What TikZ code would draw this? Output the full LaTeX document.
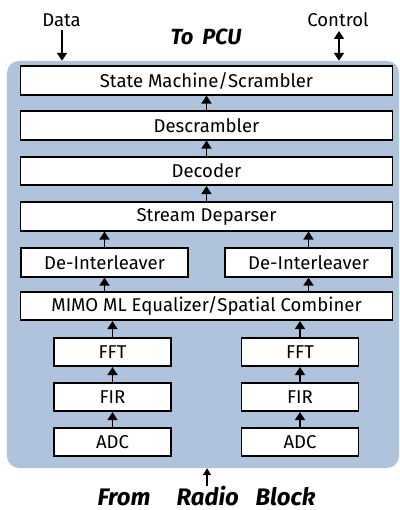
\documentclass[tikz,border=0pt]{standalone}
\usepackage{fontspec}
\setmainfont{Fira Sans}
\usetikzlibrary{arrows.meta}
\definecolor{bgblue}{RGB}{176,195,220}
\begin{document}
\begin{tikzpicture}[x=1bp,y=-1bp,
  box/.style={draw=black, line width=1.6bp, fill=white, minimum height=28.5bp, inner sep=0pt, font=\fontsize{18.6}{22}\selectfont},
  wide/.style={box, minimum width=372bp},
  dibox/.style={box, minimum width=167.5bp},
  smallbox/.style={box, minimum width=117bp},
  arr/.style={line width=1.6bp, -{Triangle[width=10bp,length=8bp]}},
  darr/.style={line width=1.6bp, {Triangle[width=10bp,length=8bp]}-{Triangle[width=10bp,length=8bp]}},
  lbl/.style={inner sep=0pt, anchor=base, font=\fontsize{18.6}{22}\selectfont},
  title/.style={inner sep=0pt, anchor=base, font=\bfseries\itshape\fontsize{22}{26}\selectfont},
  bigtitle/.style={inner sep=0pt, anchor=base, font=\bfseries\itshape\fontsize{24}{28}\selectfont}
]
\useasboundingbox (0,0) rectangle (399,510);
\node[fill=bgblue, rounded corners=12bp, minimum width=392bp, minimum height=407bp, inner sep=0pt] (bg) at (203,264.5) {};

\node[wide] (sm) at (206.5,80.5) {State Machine/Scrambler};
\node[wide] (ds) at (206.5,125.5) {Descrambler};
\node[wide] (dec) at (206.5,171) {Decoder};
\node[wide] (sd) at (206.5,216.5) {Stream Deparser};
\node[dibox] (dil) at (104.5,262.5) {De-Interleaver};
\node[dibox] (dir) at (308.5,262.5) {De-Interleaver};
\node[wide] (mimo) at (206.5,306) {MIMO ML Equalizer/Spatial Combiner};
\node[smallbox] (fftl) at (112.5,352) {FFT};
\node[smallbox] (fftr) at (300,352) {FFT};
\node[smallbox] (firl) at (112.5,397) {FIR};
\node[smallbox] (firr) at (300,397) {FIR};
\node[smallbox] (adcl) at (112.5,442) {ADC};
\node[smallbox] (adcr) at (300,442) {ADC};

\draw[arr] (ds.north) -- (sm.south);
\draw[arr] (dec.north) -- (ds.south);
\draw[arr] (sd.north) -- (dec.south);
\draw[arr] (dil.north) -- (dil.north |- sd.south);
\draw[arr] (dir.north) -- (dir.north |- sd.south);
\draw[arr] (mimo.north -| dil.north) -- (dil.south);
\draw[arr] (mimo.north -| dir.north) -- (dir.south);
\draw[arr] (fftl.north) -- (fftl.north |- mimo.south);
\draw[arr] (fftr.north) -- (fftr.north |- mimo.south);
\draw[arr] (firl.north) -- (fftl.south);
\draw[arr] (firr.north) -- (fftr.south);
\draw[arr] (adcl.north) -- (firl.south);
\draw[arr] (adcr.north) -- (firr.south);

\node[lbl] (data) at (61.5,27) {Data};
\node[lbl] (ctrl) at (338,27) {Control};
\node[title] (pcu) at (206,45) {To\hspace{0.4em}PCU};
\node[bigtitle] (frb) at (206.5,505) {From\hspace{1.1em}Radio\hspace{0.7em}Block};

\coordinate (dtop) at (62,30);
\coordinate (ctop) at (339,31);
\coordinate (rbot) at (207,486);
\draw[arr] (dtop) -- (dtop |- bg.north);
\draw[darr] (ctop) -- (ctop |- bg.north);
\draw[line width=1.3bp, -{Triangle[width=8bp,length=7bp]}] (rbot) -- (rbot |- bg.south);
\end{tikzpicture}
\end{document}
